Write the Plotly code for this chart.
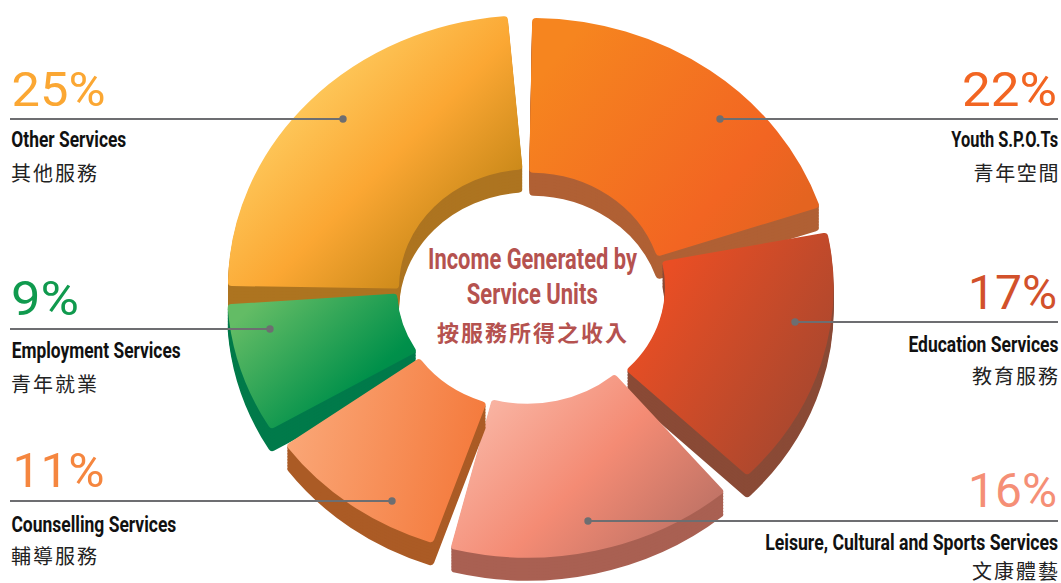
import json
import plotly.graph_objects as go

W, H = 1061, 583

# ---- data ----
names_en = ["Other Services", "Youth S.P.O.Ts", "Education Services",
            "Leisure, Cultural and Sports Services", "Employment Services", "Counselling Services"]
names_zh = ["其他服務", "青年空間", "教育服務", "文康體藝", "青年就業", "輔導服務"]
percents = [25, 22, 17, 16, 9, 11]

# ---- slice styling (draw order: back to front) ----
start_angle = [271, 1, 79, 140, 239.4, 199]
arc_trim = [0.933, 0.888, 0.899, 0.9375, 0.82, 0.884]
radius_scale = [1, 1.005, 0.985, 1, 0.993, 0.965]
apex = [(530, 287), (531, 291), (536, 287), (527.5, 286), (527, 289), (524, 294)]
side_colors = ["#AD7420", "#B06034", "#8A4A36", "#A96052", "#007A4A", "#AB5B25"]
gradients = [
    dict(v=(0.08, 0.12, 0.92, 0.88), stops=[(0.08, "#FFD469"), (0.55, "#FBA733"), (1, "#B97E10")]),
    dict(v=(0.05, 0.2, 0.95, 0.8), stops=[(0, "#F6851F"), (0.75, "#F26522"), (1, "#E46420")]),
    dict(v=(0.08, 0.2, 0.95, 0.8), stops=[(0.05, "#E94E24"), (1, "#A5472F")]),
    dict(v=(0.03, 0.2, 0.97, 0.8), stops=[(0, "#F9B7A6"), (0.52, "#F48B74"), (1, "#BE7265")]),
    dict(v=(0.05, 0.15, 0.95, 0.85), stops=[(0, "#63BC65"), (0.75, "#00904A"), (1, "#00834B")]),
    dict(v=(0, 0.4, 1, 0.6), stops=[(0, "#FAA676"), (1, "#F4793B")]),
]
pct_colors = ["#FBA733", "#F26522", "#D2512B", "#F58F76", "#109A4E", "#F5863F"]

STROKE = 8
RX_OUT, RY_OUT, RX_IN = 302, 272, 131
hole = (RX_IN + STROKE / 2) / (RX_OUT - STROKE / 2)
DEPTHS = [23, 20, 17, 14, 11, 8, 5, 2]


def px(x):
    return x / W


def py(y):
    return 1 - y / H


fig = go.Figure()
layer_spec = []
for i, pct in enumerate(percents):
    shown = pct * arc_trim[i]
    for depth, colour in [(d, side_colors[i]) for d in DEPTHS] + [(0, None)]:
        fig.add_trace(go.Pie(
            values=[shown, 100 - shown], labels=[names_en[i], "_rest"], sort=False,
            direction="clockwise", rotation=start_angle[i], hole=hole,
            domain=dict(x=[0, 1], y=[0, 1]), textinfo="none", hoverinfo="skip", showlegend=False,
            marker=dict(colors=[colour or pct_colors[i], "rgba(0,0,0,0)"], line=dict(width=0)),
        ))
        layer_spec.append(dict(slice=i, depth=depth, colour=colour, scale=radius_scale[i]))

# leader lines with end dots
leaders = [
    (10, 343, 119), (1058, 720, 119), (1058, 795, 322),
    (1058, 588, 521), (10, 270, 329), (10, 392, 501),
]
shapes = []
for x0, x1, y in leaders:
    shapes.append(dict(type="line", xref="paper", yref="paper", x0=px(x0), x1=px(x1), y0=py(y), y1=py(y),
                       line=dict(color="#6D6E71", width=2), layer="above"))
    shapes.append(dict(type="circle", xref="paper", yref="paper", x0=px(x1 - 3.7), x1=px(x1 + 3.7),
                       y0=py(y - 3.7), y1=py(y + 3.7), fillcolor="#6D6E71", line=dict(width=0), layer="above"))

# text boxes: x-start, x-end, y-centre
pct_box = [(11, 105, 89), (962, 1057, 89), (968, 1057, 292), (968, 1057, 490), (11, 79, 298), (12, 104, 470)]
en_box = [(11, 126, 140), (951, 1058, 140), (908, 1058, 344), (765, 1058, 542), (11, 180, 351), (11, 176, 524)]
zh_box = [(11, 97, 172), (973, 1058, 172), (972, 1058, 375), (972, 1058, 570), (11, 97, 383), (11, 97, 555)]
LAT = "Liberation Sans Narrow, Roboto, sans-serif"
CJK = "Noto Sans CJK TC, sans-serif"

annotations = []
fit = []


def add_text(text, box, font, adjust):
    x0, x1, y = box
    annotations.append(dict(text=text, xref="paper", yref="paper", x=px((x0 + x1) / 2), y=py(y), xanchor="center",
                            yanchor="middle", showarrow=False, font=font))
    fit.append(dict(len=x1 - x0, adjust=adjust))


for i in range(6):
    add_text(f"{percents[i]}%", pct_box[i], dict(family="Roboto, sans-serif", size=48, color=pct_colors[i]),
             "scale")
    add_text(names_en[i], en_box[i], dict(family=LAT, size=22, color="#111111", weight=700), "scale")
    add_text(names_zh[i], zh_box[i], dict(family=CJK, size=20, color="#222222"), "spacing")

title_lines = ["Income Generated by", "Service Units"]
title_zh = "按服務所得之收入"
add_text(title_lines[0], (428, 637, 259), dict(family=LAT, size=29, color="#B5524F", weight=700), "scale")
add_text(title_lines[1], (467, 598, 294), dict(family=LAT, size=29, color="#B5524F", weight=700), "scale")
add_text(title_zh, (437, 627, 331), dict(family=CJK, size=22, color="#B5524F", weight=700), "spacing")

fig.update_layout(width=W, height=H, margin=dict(l=0, r=0, t=0, b=0), paper_bgcolor="white",
                  plot_bgcolor="white", autosize=False, shapes=shapes, annotations=annotations)

post = """
(function(){
 document.body.style.margin='0'; document.body.style.overflow='hidden';
 var gd=document.getElementById('{plot_id}');
 var spec=%s, grads=%s, apex=%s, fit=%s, STROKE=%s, sx=%s, sy=%s, W=%s, H=%s;
 function apply(){
  var svg=gd.querySelector('svg.main-svg'); var defs=svg.querySelector('defs');
  var ns='http://www.w3.org/2000/svg';
  grads.forEach(function(g,i){
   var id='slice-grad-'+i; if(document.getElementById(id))return;
   var el=document.createElementNS(ns,'linearGradient'); el.setAttribute('id',id);
   el.setAttribute('x1',g.v[0]);el.setAttribute('y1',g.v[1]);el.setAttribute('x2',g.v[2]);el.setAttribute('y2',g.v[3]);
   g.stops.forEach(function(s){var st=document.createElementNS(ns,'stop');st.setAttribute('offset',s[0]);st.setAttribute('stop-color',s[1]);el.appendChild(st);});
   defs.appendChild(el);
  });
  var traces=gd.querySelectorAll('.pielayer .trace');
  traces.forEach(function(t,k){
   var s=spec[k], a=apex[s.slice];
   t.setAttribute('transform','translate('+a[0]+','+(a[1]+s.depth)+') scale('+(sx*s.scale)+','+(sy*s.scale)+') translate('+(-W/2)+','+(-H/2)+')');
   var paths=t.querySelectorAll('.slice path.surface');
   var p=paths[0]; var paint=s.colour||('url(#slice-grad-'+s.slice+')');
   p.style.fill=paint;p.style.stroke=paint;p.style.strokeWidth=STROKE+'px';p.style.strokeLinejoin='round';p.style.fillOpacity=1;p.style.strokeOpacity=1;
   for(var j=1;j<paths.length;j++){paths[j].style.fill='none';paths[j].style.stroke='none';}
  });
  gd.querySelectorAll('.annotation text.annotation-text').forEach(function(t,k){
   var f=fit[k]; if(!f)return;
   if(f.adjust==='spacing'){ t.setAttribute('textLength',f.len); t.setAttribute('lengthAdjust','spacing'); return; }
   var w=t.getComputedTextLength(), cx=parseFloat(t.getAttribute('x'))||0;
   t.setAttribute('transform','translate('+cx+',0) scale('+(f.len/w)+',1) translate('+(-cx)+',0)');
  });
 }
 apply(); gd.on('plotly_afterplot',apply);
})();
""" % (json.dumps(layer_spec), json.dumps(gradients), json.dumps(apex), json.dumps(fit), STROKE,
       (RX_OUT - STROKE / 2) / (H / 2), (RY_OUT - STROKE / 2) / (H / 2), W, H)

fig.write_html("out.html", post_script=post, config=dict(displayModeBar=False),
               default_width=W, default_height=H)
